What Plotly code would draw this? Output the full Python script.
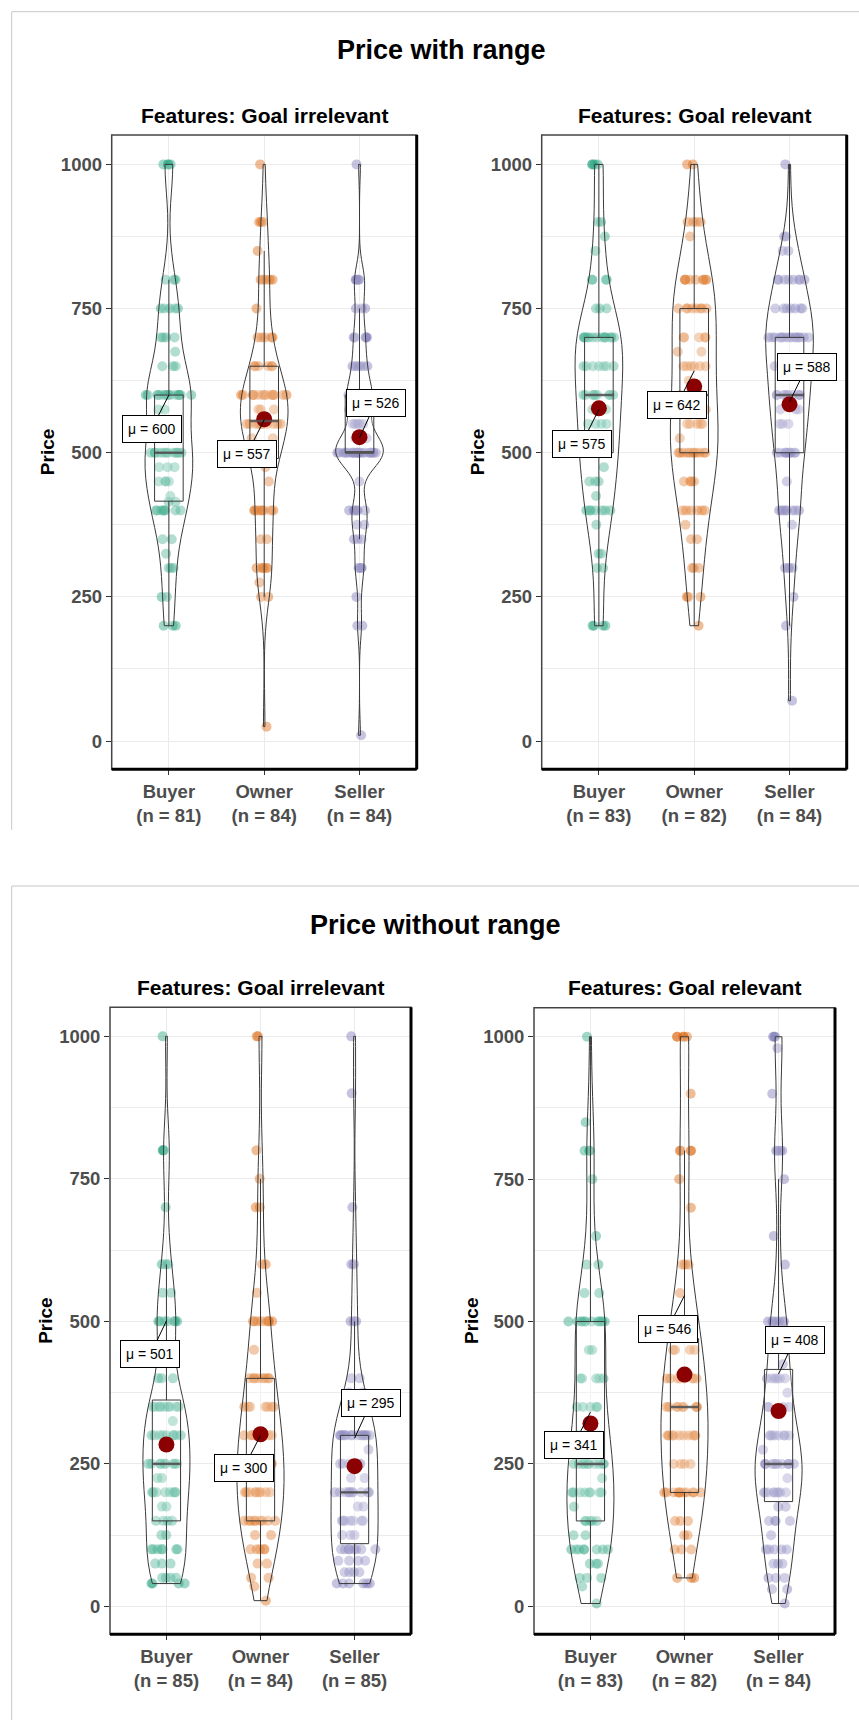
import numpy as np
import plotly.graph_objects as go

FIG_W, FIG_H = 859, 1720
FONT = "Liberation Sans, Arial, sans-serif"

GROUPS = ["Buyer", "Owner", "Seller"]
POINT_RGBA = ["rgba(27,158,119,0.42)", "rgba(217,95,2,0.42)", "rgba(117,112,179,0.42)"]
MEAN_COLOR = "#8B0000"
OUTLINE = "#3a3a3a"
GRID = "#ebebeb"
TICK_GRAY = "#4d4d4d"

# ---------------- Price with range / Goal irrelevant ----------------
wr_irr_buyer_price = [200, 250, 300, 325, 350, 400, 415, 425, 450, 475, 500, 575, 600, 650, 675, 700, 750, 800, 1000]
wr_irr_buyer_count = [3, 2, 3, 1, 2, 8, 2, 1, 4, 3, 14, 2, 16, 3, 1, 4, 5, 3, 4]
wr_irr_owner_price = [25, 250, 275, 300, 350, 400, 450, 475, 500, 525, 550, 575, 600, 650, 700, 750, 800, 850, 900, 1000]
wr_irr_owner_count = [1, 2, 1, 6, 2, 8, 1, 1, 9, 2, 11, 3, 15, 6, 5, 1, 5, 1, 3, 1]
wr_irr_seller_price = [10, 200, 250, 300, 350, 375, 400, 450, 500, 525, 550, 575, 600, 650, 700, 750, 800, 1000]
wr_irr_seller_count = [1, 2, 1, 4, 3, 2, 6, 1, 24, 2, 5, 2, 11, 6, 5, 3, 5, 1]
wr_irr_q1 = [416, 490, 500]
wr_irr_median = [500, 555, 500]
wr_irr_q3 = [600, 650, 600]
wr_irr_whisker_lo = [200, 250, 350]
wr_irr_whisker_hi = [800, 850, 750]
wr_irr_center_dot = [545, 558, 527]
wr_irr_mu_label = [600, 557, 526]

# ---------------- Price with range / Goal relevant ----------------
wr_rel_buyer_price = [200, 300, 325, 375, 400, 425, 450, 475, 500, 550, 575, 600, 650, 700, 750, 800, 850, 875, 900, 1000]
wr_rel_buyer_count = [4, 2, 2, 1, 7, 1, 3, 1, 10, 4, 3, 9, 7, 14, 3, 4, 1, 1, 2, 4]
wr_rel_owner_price = [200, 250, 300, 350, 375, 400, 450, 500, 525, 550, 575, 600, 625, 650, 675, 700, 750, 800, 875, 900, 1000]
wr_rel_owner_count = [1, 3, 3, 2, 1, 6, 4, 11, 1, 5, 3, 4, 1, 6, 2, 5, 8, 9, 1, 4, 2]
wr_rel_seller_price = [70, 200, 250, 300, 375, 400, 450, 500, 550, 575, 600, 650, 700, 750, 800, 850, 875, 1000]
wr_rel_seller_count = [1, 1, 1, 4, 1, 8, 1, 10, 3, 3, 10, 6, 15, 7, 8, 2, 2, 1]
wr_rel_q1 = [500, 500, 500]
wr_rel_median = [600, 600, 600]
wr_rel_q3 = [700, 750, 700]
wr_rel_whisker_lo = [200, 200, 200]
wr_rel_whisker_hi = [1000, 1000, 1000]
wr_rel_center_dot = [577, 615, 584]
wr_rel_mu_label = [575, 642, 588]

# ---------------- Price without range / Goal irrelevant ----------------
wo_irr_buyer_price = [40, 50, 75, 100, 125, 150, 175, 200, 225, 250, 300, 325, 350, 400, 450, 500, 550, 600, 700, 800, 1000]
wo_irr_buyer_count = [4, 4, 3, 7, 2, 4, 2, 8, 2, 9, 9, 1, 9, 3, 1, 7, 2, 3, 1, 3, 1]
wo_irr_owner_price = [10, 35, 50, 75, 100, 125, 150, 200, 250, 300, 350, 400, 450, 500, 550, 600, 700, 750, 800, 1000]
wo_irr_owner_count = [1, 1, 2, 2, 5, 2, 9, 9, 12, 8, 7, 8, 1, 8, 1, 2, 2, 1, 1, 2]
wo_irr_seller_price = [40, 60, 80, 100, 125, 150, 175, 200, 225, 250, 275, 300, 350, 375, 400, 500, 600, 700, 900, 1000]
wo_irr_seller_count = [6, 4, 4, 8, 3, 7, 2, 11, 2, 6, 1, 15, 4, 2, 2, 3, 2, 1, 1, 1]
wo_irr_q1 = [150, 150, 110]
wo_irr_median = [250, 250, 200]
wo_irr_q3 = [362, 400, 300]
wo_irr_whisker_lo = [40, 10, 40]
wo_irr_whisker_hi = [600, 750, 500]
wo_irr_center_dot = [284, 302, 246]
wo_irr_mu_label = [501, 300, 295]

# ---------------- Price without range / Goal relevant ----------------
wo_rel_buyer_price = [5, 35, 50, 75, 100, 125, 150, 175, 200, 225, 250, 300, 350, 400, 450, 500, 550, 600, 650, 750, 800, 850, 1000]
wo_rel_buyer_count = [1, 1, 3, 3, 8, 2, 5, 1, 8, 1, 10, 5, 5, 5, 2, 12, 2, 2, 1, 1, 3, 1, 1]
wo_rel_owner_price = [50, 100, 125, 150, 200, 250, 300, 350, 400, 450, 500, 550, 600, 700, 750, 800, 900, 1000]
wo_rel_owner_count = [3, 3, 2, 3, 12, 4, 10, 9, 8, 4, 8, 1, 3, 1, 1, 4, 1, 5]
wo_rel_seller_price = [5, 30, 50, 75, 100, 125, 150, 175, 200, 225, 250, 275, 300, 350, 375, 400, 425, 450, 500, 600, 650, 750, 800, 900, 980, 1000]
wo_rel_seller_count = [1, 2, 3, 3, 5, 1, 4, 2, 9, 1, 12, 1, 8, 4, 1, 6, 1, 1, 7, 1, 1, 1, 4, 1, 1, 3]
wo_rel_q1 = [150, 200, 184]
wo_rel_median = [250, 350, 250]
wo_rel_q3 = [500, 470, 416]
wo_rel_whisker_lo = [5, 50, 5]
wo_rel_whisker_hi = [1000, 800, 750]
wo_rel_center_dot = [321, 407, 343]
wo_rel_mu_label = [341, 546, 408]

Y_TICKS = [0, 250, 500, 750, 1000]
Y_MINOR = [125, 375, 625, 875]
Y_RANGE = [-49, 1051]


def expand(prices, counts):
    return np.repeat(np.asarray(prices, dtype=float), counts)


def nrd0(v):
    """Silverman's rule as used by R's bw.nrd0."""
    sd = np.std(v, ddof=1)
    q75, q25 = np.percentile(v, [75, 25])
    spread = min(sd, (q75 - q25) / 1.34) if q75 > q25 else sd
    return 0.9 * spread * len(v) ** -0.2


# plot-area boxes in pixels (left, top, right, bottom) and label placement per panel
panels = [
    dict(subtitle="Features: Goal irrelevant", box=(111.7, 135.0, 416.7, 769.3), ytitle_x=47,
         prices=[wr_irr_buyer_price, wr_irr_owner_price, wr_irr_seller_price],
         counts=[wr_irr_buyer_count, wr_irr_owner_count, wr_irr_seller_count],
         q1=wr_irr_q1, med=wr_irr_median, q3=wr_irr_q3, lo=wr_irr_whisker_lo, hi=wr_irr_whisker_hi,
         dot=wr_irr_center_dot, mu=wr_irr_mu_label,
         label_at=[(-0.18, 542), (0.82, 498), (2.17, 587)]),
    dict(subtitle="Features: Goal relevant", box=(541.7, 135.0, 846.7, 769.3), ytitle_x=477,
         prices=[wr_rel_buyer_price, wr_rel_owner_price, wr_rel_seller_price],
         counts=[wr_rel_buyer_count, wr_rel_owner_count, wr_rel_seller_count],
         q1=wr_rel_q1, med=wr_rel_median, q3=wr_rel_q3, lo=wr_rel_whisker_lo, hi=wr_rel_whisker_hi,
         dot=wr_rel_center_dot, mu=wr_rel_mu_label,
         label_at=[(-0.18, 516), (0.82, 583), (2.18, 649)]),
    dict(subtitle="Features: Goal irrelevant", box=(110.0, 1007.3, 411.0, 1634.3), ytitle_x=46,
         prices=[wo_irr_buyer_price, wo_irr_owner_price, wo_irr_seller_price],
         counts=[wo_irr_buyer_count, wo_irr_owner_count, wo_irr_seller_count],
         q1=wo_irr_q1, med=wo_irr_median, q3=wo_irr_q3, lo=wo_irr_whisker_lo, hi=wo_irr_whisker_hi,
         dot=wo_irr_center_dot, mu=wo_irr_mu_label,
         label_at=[(-0.17, 442), (0.82, 242), (2.17, 356)]),
    dict(subtitle="Features: Goal relevant", box=(534.0, 1007.7, 835.0, 1634.3), ytitle_x=471,
         prices=[wo_rel_buyer_price, wo_rel_owner_price, wo_rel_seller_price],
         counts=[wo_rel_buyer_count, wo_rel_owner_count, wo_rel_seller_count],
         q1=wo_rel_q1, med=wo_rel_median, q3=wo_rel_q3, lo=wo_rel_whisker_lo, hi=wo_rel_whisker_hi,
         dot=wo_rel_center_dot, mu=wo_rel_mu_label,
         label_at=[(-0.18, 283), (0.82, 487), (2.17, 468)]),
]

fig = go.Figure()
annotations = []
shapes = []
layout_axes = {}

tick_font = dict(family=FONT, size=18.5, color=TICK_GRAY, weight="bold")

for k, p in enumerate(panels, start=1):
    sfx = "" if k == 1 else str(k)
    xa, ya = "x" + sfx, "y" + sfx
    samples = [expand(pr, ct) for pr, ct in zip(p["prices"], p["counts"])]
    cats = [f"{g}<br>(n = {len(s)})" for g, s in zip(GROUPS, samples)]

    # jittered observations (drawn first, underneath box and violin);
    # the hidden carrier violin is wide so the library jitter spreads them out
    for i, s in enumerate(samples):
        fig.add_trace(go.Violin(
            x0=cats[i], y=s, xaxis=xa, yaxis=ya, name=cats[i],
            points="all", pointpos=0, jitter=1.0,
            marker=dict(color=POINT_RGBA[i], size=10, line=dict(width=0)),
            line=dict(width=0, color="rgba(0,0,0,0)"), fillcolor="rgba(0,0,0,0)",
            width=0.5, scalemode="width", spanmode="hard",
            bandwidth=nrd0(s), showlegend=False, hoverinfo="skip"))

    # boxes
    for i in range(3):
        fig.add_trace(go.Box(
            x=[cats[i]], q1=[p["q1"][i]], median=[p["med"][i]], q3=[p["q3"][i]],
            lowerfence=[p["lo"][i]], upperfence=[p["hi"][i]],
            xaxis=xa, yaxis=ya, width=0.3, whiskerwidth=0, boxpoints=False,
            fillcolor="rgba(255,255,255,0.2)", line=dict(color=OUTLINE, width=1),
            showlegend=False, hoverinfo="skip"))
        shapes.append(dict(type="line", xref=xa, yref=ya, x0=i - 0.15, x1=i + 0.15,
                           y0=p["med"][i], y1=p["med"][i], layer="above",
                           line=dict(color="rgba(85,85,85,0.8)", width=2.5)))

    # violin outlines
    for i, s in enumerate(samples):
        fig.add_trace(go.Violin(
            x0=cats[i], y=s, xaxis=xa, yaxis=ya, name=cats[i], points=False,
            line=dict(color=OUTLINE, width=1), fillcolor="rgba(255,255,255,0.2)",
            width=0.5, scalemode="count", scalegroup=f"vio{k}", spanmode="hard",
            bandwidth=nrd0(s), showlegend=False, hoverinfo="skip"))

    # centre dots
    fig.add_trace(go.Scatter(
        x=cats, y=p["dot"], xaxis=xa, yaxis=ya, mode="markers",
        marker=dict(color=MEAN_COLOR, size=16, line=dict(width=0)),
        showlegend=False, hoverinfo="skip"))

    # mean labels with leader lines
    for i in range(3):
        lx, ly = p["label_at"][i]
        annotations.append(dict(
            x=i, y=p["mu"][i], xref=xa, yref=ya, ax=lx, ay=ly, axref=xa, ayref=ya,
            text=f"\u03bc = {p['mu'][i]}", showarrow=True, arrowhead=0, arrowwidth=1,
            arrowcolor="black", standoff=0, bgcolor="white", bordercolor="black",
            borderwidth=1, borderpad=5, font=dict(family=FONT, size=14, color="black")))

    left, top, right, bottom = p["box"]
    layout_axes["xaxis" + sfx] = dict(
        domain=[left / FIG_W, right / FIG_W], anchor=ya, type="category",
        categoryorder="array", categoryarray=cats, range=[-0.6, 2.6],
        showgrid=True, gridcolor=GRID, gridwidth=1, zeroline=False, showline=False,
        ticks="outside", ticklen=5, tickwidth=1, tickcolor="#333333", tickfont=tick_font)
    layout_axes["yaxis" + sfx] = dict(
        domain=[1 - bottom / FIG_H, 1 - top / FIG_H], anchor=xa, range=Y_RANGE,
        tickvals=Y_TICKS, showgrid=True, gridcolor=GRID, gridwidth=1,
        minor=dict(tickvals=Y_MINOR, showgrid=True, gridcolor=GRID, gridwidth=1, ticks=""),
        zeroline=False, showline=False, ticks="outside", ticklen=5, tickwidth=1,
        tickcolor="#333333", tickfont=tick_font)

    # panel frame: thin on top/left, heavier on right/bottom
    shapes.append(dict(type="rect", xref=f"{xa} domain", yref=f"{ya} domain",
                       x0=0, x1=1, y0=0, y1=1, layer="above",
                       line=dict(color="#444444", width=1.5)))
    shapes.append(dict(type="line", xref=f"{xa} domain", yref=f"{ya} domain",
                       x0=1, x1=1, y0=0, y1=1, layer="above", line=dict(color="black", width=3)))
    shapes.append(dict(type="line", xref=f"{xa} domain", yref=f"{ya} domain",
                       x0=0, x1=1, y0=0, y1=0, layer="above", line=dict(color="black", width=3)))

    # facet subtitle and y-axis title
    annotations.append(dict(
        x=(left + right) / 2 / FIG_W, y=1 - (top - 20) / FIG_H, xref="paper", yref="paper",
        text=p["subtitle"], showarrow=False, xanchor="center", yanchor="middle",
        font=dict(family=FONT, size=21, color="black", weight="bold")))
    annotations.append(dict(
        x=p["ytitle_x"] / FIG_W, y=1 - (top + bottom) / 2 / FIG_H, xref="paper", yref="paper",
        text="Price", textangle=-90, showarrow=False, xanchor="center", yanchor="middle",
        font=dict(family=FONT, size=19, color="black", weight="bold")))

# block titles
for text, cx, cy in [("Price with range", 441, 50), ("Price without range", 435.5, 925)]:
    annotations.append(dict(
        x=cx / FIG_W, y=1 - cy / FIG_H, xref="paper", yref="paper", text=text,
        showarrow=False, xanchor="center", yanchor="middle",
        font=dict(family=FONT, size=27, color="black", weight="bold")))

# light frames around the two blocks
for top_px, bottom_px in [(11.7, 830), (886, FIG_H)]:
    shapes.append(dict(type="line", xref="paper", yref="paper",
                       x0=11.7 / FIG_W, x1=1, y0=1 - top_px / FIG_H, y1=1 - top_px / FIG_H,
                       line=dict(color="#c8c8c8", width=1)))
    shapes.append(dict(type="line", xref="paper", yref="paper",
                       x0=11.7 / FIG_W, x1=11.7 / FIG_W, y0=1 - top_px / FIG_H, y1=1 - bottom_px / FIG_H,
                       line=dict(color="#c8c8c8", width=1)))

fig.update_layout(
    width=FIG_W, height=FIG_H, autosize=False,
    margin=dict(l=0, r=0, t=0, b=0),
    paper_bgcolor="white", plot_bgcolor="white",
    font=dict(family=FONT),
    violinmode="overlay", boxmode="overlay",
    showlegend=False,
    annotations=annotations, shapes=shapes,
    **layout_axes,
)

fig.write_html("out.html")
